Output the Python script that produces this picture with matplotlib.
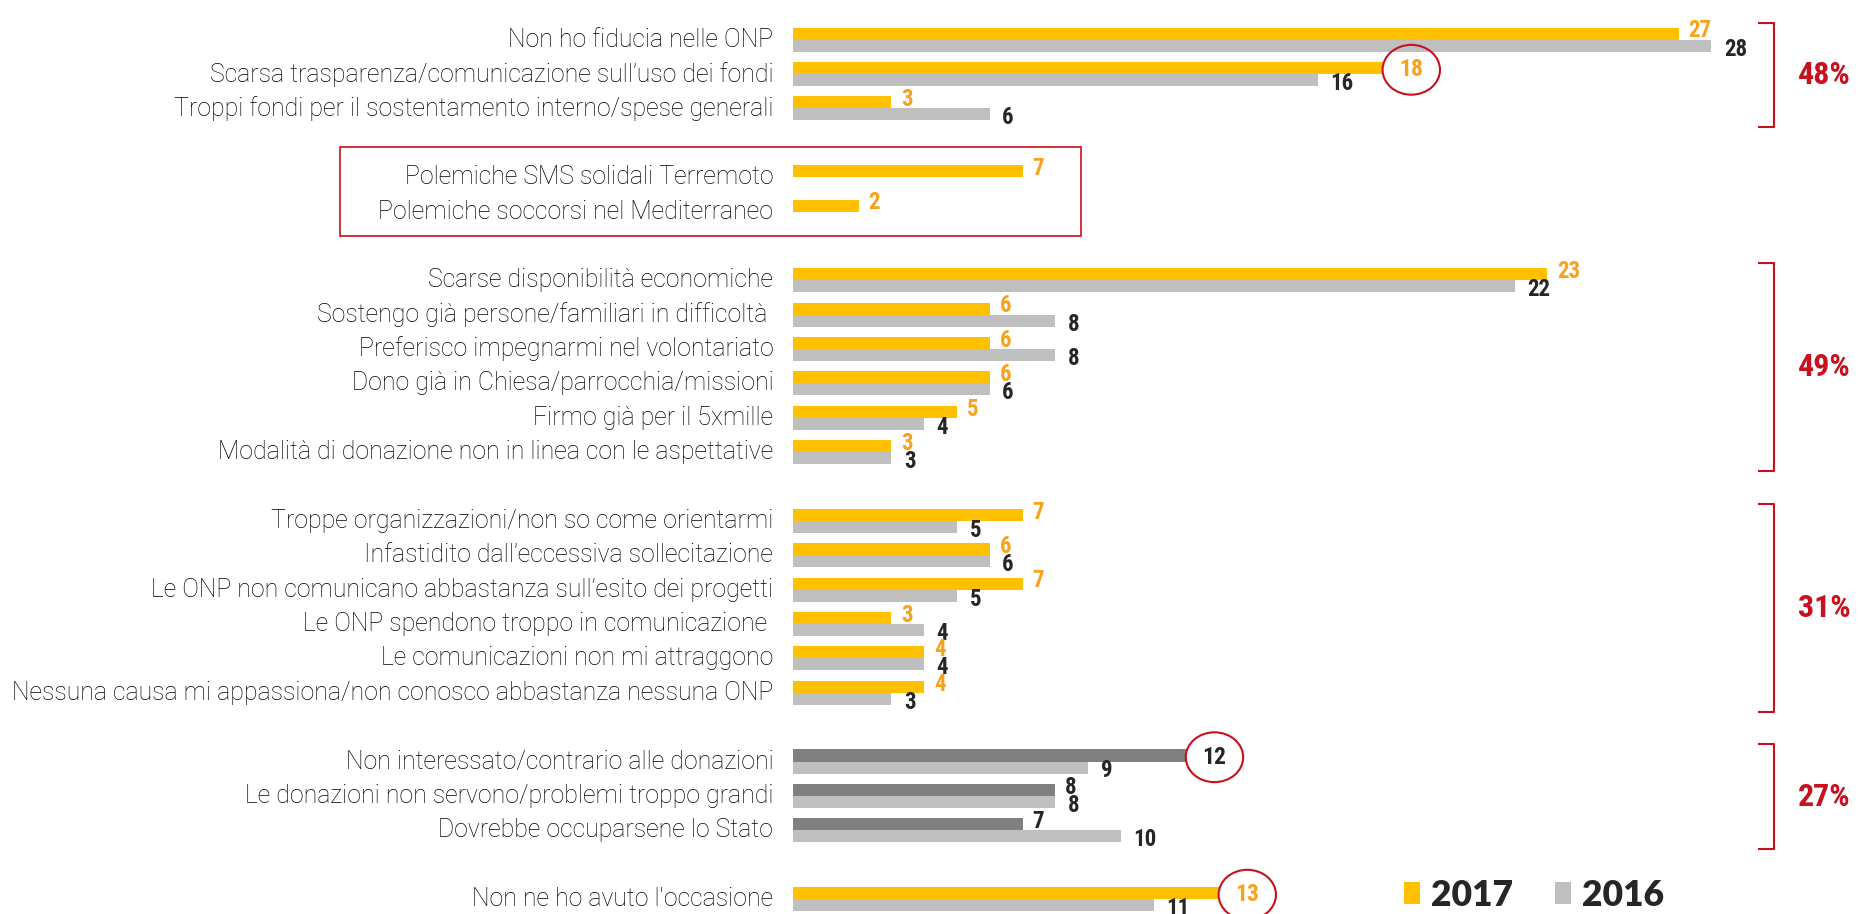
import matplotlib
matplotlib.use("Agg")
import matplotlib.pyplot as plt
from matplotlib.patches import Rectangle, Ellipse, Patch

# categorie per gruppo (ordine dall'alto)
groups = [
    ["Non ho fiducia nelle ONP",
     "Scarsa trasparenza/comunicazione sull’uso dei fondi",
     "Troppi fondi per il sostentamento interno/spese generali"],
    ["Polemiche SMS solidali Terremoto",
     "Polemiche soccorsi nel Mediterraneo"],
    ["Scarse disponibilità economiche",
     "Sostengo già persone/familiari in difficoltà ",
     "Preferisco impegnarmi nel volontariato",
     "Dono già in Chiesa/parrocchia/missioni",
     "Firmo già per il 5xmille",
     "Modalità di donazione non in linea con le aspettative"],
    ["Troppe organizzazioni/non so come orientarmi",
     "Infastidito dall’eccessiva sollecitazione",
     "Le ONP non comunicano abbastanza sull’esito dei progetti",
     "Le ONP spendono troppo in comunicazione ",
     "Le comunicazioni non mi attraggono",
     "Nessuna causa mi appassiona/non conosco abbastanza nessuna ONP"],
    ["Non interessato/contrario alle donazioni",
     "Le donazioni non servono/problemi troppo grandi",
     "Dovrebbe occuparsene lo Stato"],
    ["Non ne ho avuto l'occasione"],
]

v2017 = [[27, 18, 3], [7, 2], [23, 6, 6, 6, 5, 3], [7, 6, 7, 3, 4, 4], [12, 8, 7], [13]]
v2016 = [[28, 16, 6], None, [22, 8, 8, 6, 4, 3], [5, 6, 5, 4, 4, 3], [9, 8, 10], [11]]
group_pct = ["48%", None, "49%", "31%", "27%", None]
circled = [(0, 1), (4, 0), (5, 0)]   # (gruppo, riga) con cerchio rosso sul 2017

YELLOW = "#FFC000"
GREY = "#BFBFBF"
DARK = "#808080"
ORANGE = "#F9A11B"
TXT = "#262626"
RED = "#C8101E"

LABEL_FONT = ["Roboto", "DejaVu Sans"]
NUM_FONT = ["Roboto Condensed", "Asap Condensed", "Liberation Sans", "DejaVu Sans"]
LEG_FONT = ["Lato", "Open Sans", "DejaVu Sans"]

fig = plt.figure(figsize=(18.59, 9.14), dpi=100)
ax = fig.add_axes([793 / 1859, 0, 1 - 793 / 1859, 1])
ax.set_xlim(0, 32.5)
ax.set_ylim(25.436, -1.155)
ax.axis("off")

h = 0.35
row = 0
for g, labels in enumerate(groups):
    first = row
    for i, lab in enumerate(labels):
        a = v2017[g][i]
        c17 = DARK if g == 4 else YELLOW
        ax.barh(row - h / 2, a, height=h, color=c17)
        ax.text(-0.6, row, lab, ha="right", va="center", fontsize=17.9,
                family=LABEL_FONT, weight="light", color="#000000")
        col = TXT if g == 4 else ORANGE
        if (g, i) in circled:
            cx, cy = a + 0.85, row - h / 2 + 0.05
            ax.add_patch(Ellipse((cx, cy), 1.75, 1.45, fill=False,
                                 edgecolor=RED, lw=1.5, clip_on=False))
            ax.text(cx, cy, str(a), ha="center", va="center",
                    fontsize=17, family=NUM_FONT, weight="bold", color=col)
        else:
            ax.text(a + 0.3, row - h / 2 - 0.08, str(a), ha="left", va="center",
                    fontsize=16.5, family=NUM_FONT, weight="bold", color=col)
        if v2016[g] is not None:
            b = v2016[g][i]
            ax.barh(row + h / 2, b, height=h, color=GREY)
            ax.text(b + 0.38, row + h / 2 + 0.1, str(b), ha="left", va="center",
                    fontsize=16.5, family=NUM_FONT, weight="bold", color=TXT)
        row += 1
    last = row - 1
    if group_pct[g] is not None:
        y0, y1 = first - 0.5, last + 0.55
        bx = 29.9
        ax.plot([bx - 0.45, bx, bx, bx - 0.45], [y0, y0, y1, y1], color=RED,
                lw=1.5, clip_on=False, solid_joinstyle="round")
        ax.text(31.45, (y0 + y1) / 2, group_pct[g], ha="center", va="center",
                fontsize=23, family=NUM_FONT, weight="bold", color=RED)
    if g == 1:
        ax.add_patch(Rectangle((-13.8, 3.12), 13.8 + 8.78, 5.71 - 3.12, fill=False,
                               edgecolor=RED, lw=1.2, clip_on=False))
    row += 1

handles = [Patch(facecolor=YELLOW, label="2017"), Patch(facecolor=GREY, label="2016")]
fig.legend(handles=handles, loc="center left", bbox_to_anchor=(1404 / 1859, 1 - 895 / 914),
           ncol=2, frameon=False, handlelength=0.45, handleheight=0.6, handletextpad=0.3,
           columnspacing=1.2, borderaxespad=0, borderpad=0,
           prop={"family": LEG_FONT, "weight": "heavy", "size": 25.5}, labelcolor=TXT)

fig.savefig("out.png", dpi=100)
